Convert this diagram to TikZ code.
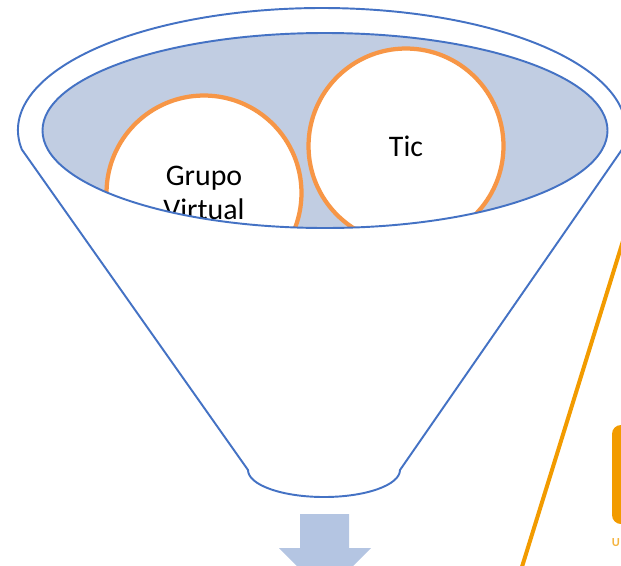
\documentclass[tikz,border=0pt]{standalone}
\usepackage{fontspec}
\setmainfont{Carlito}
\usepackage{xcolor}
\definecolor{FunnelBlue}{RGB}{68,114,196}
\definecolor{FunnelFill}{RGB}{193,205,226}
\definecolor{ArrowBlue}{RGB}{180,197,226}
\definecolor{BubbleOrange}{RGB}{247,150,70}
\definecolor{LineOrange}{RGB}{242,155,0}
\usepackage{tikz}

\begin{document}
\begin{tikzpicture}[x=0.02cm,y=-0.02cm,
    outline/.style={FunnelBlue,line width=1.1pt,line join=round},
    bubble/.style={circle,draw=BubbleOrange,line width=0.085cm,fill=white,
      minimum size=3.9cm,inner sep=0pt,align=center,
      font=\fontsize{17}{19.4}\selectfont}]
        \clip (0,0) rectangle (621,565);
        % funnel body with the rim on top
        \filldraw[outline,fill=white] (248,470)
            arc[start angle=180,end angle=0,x radius=76,y radius=27]
            -- (622,149.5)
            arc[start angle=9.2,end angle=-189.2,x radius=304,y radius=122]
            -- cycle;
        % inner mouth of the funnel
        \fill[FunnelFill] (325,130.5) ellipse[x radius=282.5,y radius=97.5];
        \begin{scope}
            \clip (325,130.5) ellipse[x radius=282.5,y radius=97.5];
            \node[bubble] (grupo) at (204,193) {Grupo\\Virtual};
            \node[bubble] (tic) at (406,146) {Tic};
        \end{scope}
        \draw[outline] (325,130.5) ellipse[x radius=282.5,y radius=97.5];
        % arrow out of the funnel
        \fill[ArrowBlue] (300,514) -- (349,514) -- (349,548) -- (371,548)
            -- (325,594) -- (279,548) -- (300,548) -- cycle;
        % orange line and box at the right edge
        \coordinate (lineTop) at (627,228);
        \coordinate (lineEnd) at (521,570);
        \draw[LineOrange,line width=0.08cm] (lineTop) -- (lineEnd);
        \fill[LineOrange,rounded corners=0.18cm] (612,425) rectangle (650,524);
        \node[anchor=west,inner sep=0pt,text=LineOrange!75,
            font=\fontsize{7}{8}\selectfont\bfseries] (uLabel) at (611.5,543) {U};
    \end{tikzpicture}
\end{document}
